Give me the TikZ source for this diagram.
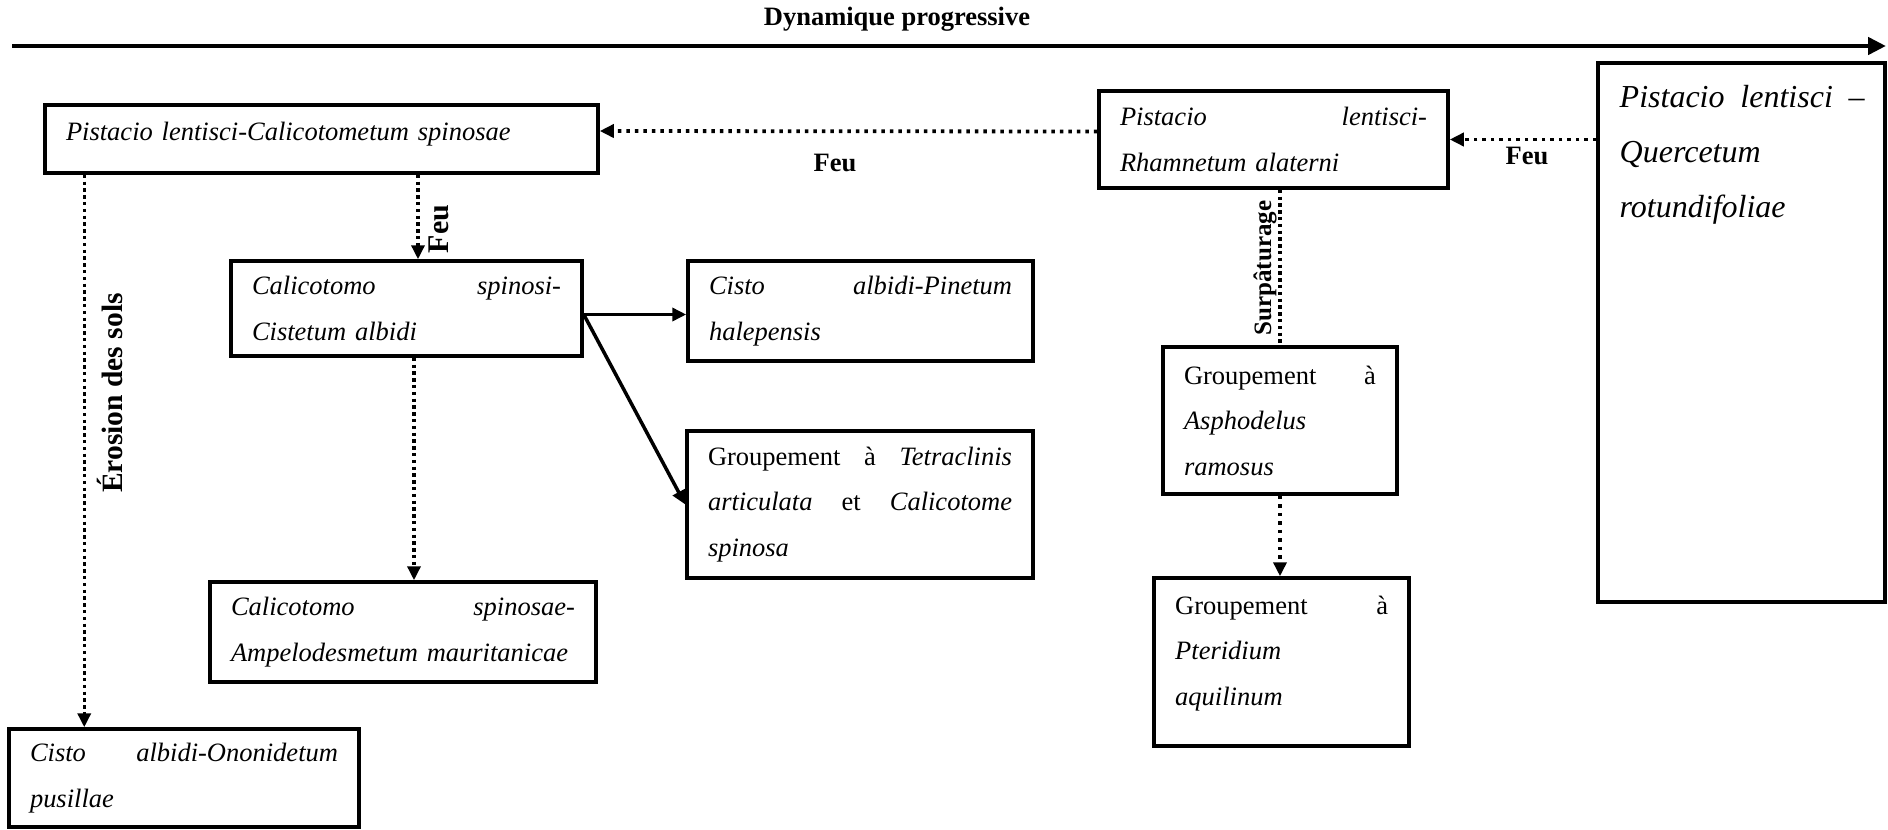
\documentclass[tikz,border=0pt]{standalone}
\usepackage{fontspec}
\setmainfont{Liberation Serif}
\usetikzlibrary{arrows.meta}
\newcommand\jl[1]{\makebox[\linewidth][s]{#1}}
\begin{document}
\begin{tikzpicture}[x=1pt,y=-1pt,
  box/.style n args={3}{draw, line width=3.5pt, inner xsep=21pt, inner ysep=0pt,
    minimum width=#1, minimum height=#2, text width=#3, align=left,
    font=\fontsize{26.5}{45.5}\selectfont},
  txt/.style={inner sep=0pt, align=left, anchor=base west},
  lab/.style={font=\bfseries\fontsize{26.5}{30}\selectfont, inner sep=0pt},
  tip/.style={-{Triangle[length=14pt,width=13pt]}},
  dotthick/.style={line width=3.8pt, dash pattern=on 3.5pt off 5pt},
  dotthin/.style={line width=3.4pt, dash pattern=on 3.4pt off 3.4pt},
  solidarr/.style={line width=3.5pt}
]
\useasboundingbox (0,0) rectangle (1888,830);

% title and top arrow
\node[lab] (title) at (897,19) {Dynamique progressive};
\coordinate (ts) at (12,46);
\coordinate (te) at (1886,46);
\draw[line width=4.5pt, -{Triangle[length=18pt,width=17pt]}] (ts) -- (te);

% boxes
\node[box={553pt}{68pt}{511pt}, text depth=16pt] (A) at (321.5,139)
  {\textit{Pistacio lentisci-Calicotometum spinosae}};
\node[box={349pt}{97pt}{307pt}] (B) at (1273.5,139.5)
  {\jl{\itshape Pistacio\hfill lentisci-}\\\textit{Rhamnetum alaterni}};
\node[box={287pt}{539pt}{245pt}] (C) at (1741.5,332.5) {};
\node[txt, text width=245pt, font=\fontsize{32}{55}\selectfont] (Ct) at (1619.5,107)
  {\jl{\itshape Pistacio\hfill lentisci\hfill --}\\\textit{Quercetum}\\\textit{rotundifoliae}};
\node[box={351pt}{95pt}{309pt}] (D) at (406.5,308.5)
  {\jl{\itshape Calicotomo\hfill spinosi-}\\\textit{Cistetum albidi}};
\node[box={345pt}{100pt}{303pt}] (E) at (860.5,311)
  {\jl{\itshape Cisto\hfill albidi-Pinetum}\\\textit{halepensis}};
\node[box={346pt}{147pt}{304pt}] (F) at (860,504.5)
  {\jl{Groupement\hfill à\hfill\textit{Tetraclinis}}\\\jl{\textit{articulata}\hfill et\hfill\textit{Calicotome}}\\\textit{spinosa}};
\node[box={386pt}{100pt}{344pt}] (G) at (403,632)
  {\jl{\itshape Calicotomo\hfill spinosae-}\\\textit{Ampelodesmetum mauritanicae}};
\node[box={350pt}{98pt}{308pt}] (H) at (184,778)
  {\jl{\itshape Cisto\hfill albidi-Ononidetum}\\\textit{pusillae}};
\node[box={234pt}{147pt}{192pt}] (I) at (1280,420.5)
  {\jl{Groupement\hfill à}\\\textit{Asphodelus}\\\textit{ramosus}};
\node[box={255pt}{168pt}{213pt}] (J) at (1281.5,662) {};
\node[txt, text width=213pt, font=\fontsize{26.5}{45.5}\selectfont] (Jt) at (1175,614)
  {\jl{Groupement\hfill à}\\\textit{Pteridium}\\\textit{aquilinum}};

% connectors
\draw[dotthick, tip] ([yshift=8pt]B.west) -- ([yshift=8pt]A.east);
\draw[dotthick, tip] (B.east -| C.west) -- (B.east);
\draw[dotthin, tip] ([xshift=11.5pt]D.north |- A.south) -- ([xshift=11.5pt]D.north);
\draw[dotthin, tip] ([xshift=41pt]A.south west) -- ([xshift=41pt]A.south west |- H.north);
\draw[solidarr, tip] ([yshift=-6pt]D.east) -- ([yshift=-6pt]D.east -| E.west);
\draw[solidarr, tip] ([yshift=-6pt]D.east) -- (F.west);
\draw[dotthin, tip] ([xshift=7.5pt]D.south) -- ([xshift=7.5pt]D.south |- G.north);
\draw[dotthin] (I.north |- B.south) -- (I.north);
\draw[dotthick, tip] (I.south) -- (I.south |- J.north);

% labels
\node[lab] (feu1) at (835,163) {Feu};
\node[lab] (feu2) at (1527,156) {Feu};
\node[lab, rotate=90, font=\bfseries\fontsize{30}{32}\selectfont] (feu3) at (439,229) {Feu};
\node[lab, rotate=90, font=\bfseries\fontsize{29.5}{32}\selectfont] (eros) at (110,393) {Érosion des sols};
\node[lab, rotate=90, font=\bfseries\fontsize{25}{28}\selectfont] (surp) at (1265,268) {Surpâturage};
\end{tikzpicture}
\end{document}
